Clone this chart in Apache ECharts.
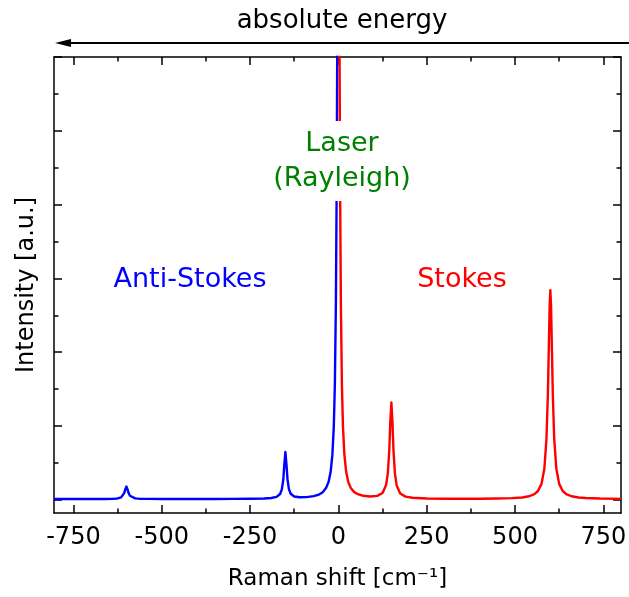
<!DOCTYPE html>
<html>
<head>
<meta charset="utf-8">
<script src="https://cdn.jsdelivr.net/npm/echarts@6.0.0/dist/echarts.min.js"></script>
<style>
  html, body { margin: 0; padding: 0; background: #fff; }
  #chart { width: 629px; height: 597px; }
</style>
</head>
<body>
<div id="chart"></div>
<script>
// ---- data ----
const blueX = [-805,-750,-700,-660,-640,-625,-615,-610,-606,-603,-600,-597,-594,-590,-585,-575,-560,-540,-500,-450,-400,-350,-300,-250,-210,-190,-175,-165,-160,-156,-153,-150,-147,-144,-140,-135,-125,-110,-90,-70,-55,-45,-35,-28,-22,-17,-13,-10,-7,-5,-3,-1.5,0];
const blueY = [0.009,0.009,0.009,0.010,0.012,0.017,0.032,0.053,0.093,0.144,0.178,0.144,0.093,0.054,0.032,0.018,0.012,0.011,0.009,0.010,0.010,0.010,0.011,0.013,0.016,0.023,0.038,0.078,0.141,0.273,0.479,0.646,0.479,0.275,0.143,0.081,0.044,0.033,0.035,0.048,0.070,0.099,0.158,0.238,0.375,0.607,0.99,1.55,2.69,4.12,6.39,8.32,9.25];
const redX = [0,1.5,3,5,7,10,13,17,22,28,35,45,55,70,90,110,125,135,140,144,147,150,153,156,160,165,175,190,210,250,300,350,400,450,490,520,540,555,565,575,583,589,593,596,598,600,602,604,607,611,617,625,635,645,660,680,700,740,800];
const redY = [9.25,8.32,6.39,4.12,2.69,1.55,0.99,0.61,0.378,0.241,0.16,0.103,0.075,0.054,0.044,0.052,0.091,0.198,0.362,0.667,1.057,1.317,1.056,0.666,0.360,0.194,0.085,0.042,0.026,0.017,0.014,0.013,0.013,0.016,0.021,0.030,0.047,0.076,0.118,0.215,0.419,0.825,1.424,2.143,2.626,2.839,2.626,2.143,1.424,0.825,0.419,0.215,0.118,0.076,0.047,0.030,0.023,0.016,0.012];

const xMajorTicks = [-750,-500,-250,0,250,500,750];
const xMinorTicks = [-625,-375,-125,125,375,625];
const yMajorTicks = [0,1,2,3,4,5,6];
const yMinorTicks = [0.5,1.5,2.5,3.5,4.5,5.5];

const xName = 'Raman shift [cm⁻¹]';
const yName = 'Intensity [a.u.]';
const topText = 'absolute energy';
const laserText = 'Laser\n(Rayleigh)';
const antiText = 'Anti-Stokes';
const stokesText = 'Stokes';

// ---- chart ----
const FONT = '"DejaVu Sans", sans-serif';
const xMin = -805, xMax = 800, yMin = -0.18, yMax = 6;

function zip(xs, ys) { return xs.map((x, i) => [x, ys[i]]); }

function xAxisDef(pos, ticks, len, opts) {
  return Object.assign({
    type: 'value', min: xMin, max: xMax, position: pos, gridIndex: 0,
    axisLine: { show: false, onZero: false },
    axisTick: { show: true, inside: true, length: len, customValues: ticks,
                lineStyle: { color: '#000', width: 1.5 } },
    axisLabel: { show: false },
    splitLine: { show: false }
  }, opts || {});
}
function yAxisDef(pos, ticks, len, opts) {
  return Object.assign({
    type: 'value', min: yMin, max: yMax, position: pos, gridIndex: 0,
    axisLine: { show: false, onZero: false },
    axisTick: { show: true, inside: true, length: len, customValues: ticks,
                lineStyle: { color: '#000', width: 1.5 } },
    axisLabel: { show: false },
    splitLine: { show: false }
  }, opts || {});
}

const chart = echarts.init(document.getElementById('chart'), null, { renderer: 'canvas' });
const option = {
  animation: false,
  backgroundColor: '#ffffff',
  grid: { left: 54, right: 8, top: 57, bottom: 84, containLabel: false, outerBoundsMode: 'none' },
  xAxis: [
    xAxisDef('bottom', xMajorTicks, 8, {
      axisLine: { show: true, onZero: false, lineStyle: { color: '#000', width: 1.5 } },
      axisLabel: { show: true, customValues: xMajorTicks, margin: 13, fontSize: 24,
                   fontFamily: FONT, color: '#000' },
      name: xName, nameLocation: 'middle', nameGap: 55,
      nameTextStyle: { fontSize: 23, fontFamily: FONT, color: '#000' }
    }),
    xAxisDef('bottom', xMinorTicks, 4.5),
    xAxisDef('top', xMajorTicks, 8, {
      axisLine: { show: true, onZero: false, lineStyle: { color: '#000', width: 1.5 } }
    }),
    xAxisDef('top', xMinorTicks, 4.5)
  ],
  yAxis: [
    yAxisDef('left', yMajorTicks, 8, {
      axisLine: { show: true, onZero: false, lineStyle: { color: '#000', width: 1.5 } },
      name: yName, nameLocation: 'middle', nameGap: 15,
      nameTextStyle: { fontSize: 24, fontFamily: FONT, color: '#000' }
    }),
    yAxisDef('left', yMinorTicks, 4.5),
    yAxisDef('right', yMajorTicks, 8, {
      axisLine: { show: true, onZero: false, lineStyle: { color: '#000', width: 1.5 } }
    }),
    yAxisDef('right', yMinorTicks, 4.5)
  ],
  series: [
    { type: 'line', name: 'anti-Stokes', xAxisIndex: 0, yAxisIndex: 0, data: zip(blueX, blueY),
      symbol: 'none', showSymbol: false, clip: true, z: 3,
      lineStyle: { color: '#0000ff', width: 2.4, join: 'round' } },
    { type: 'line', name: 'Stokes', xAxisIndex: 0, yAxisIndex: 0, data: zip(redX, redY),
      symbol: 'none', showSymbol: false, clip: true, z: 3,
      lineStyle: { color: '#ff0000', width: 2.4, join: 'round' } }
  ],
  graphic: [
    { type: 'text', x: 342, y: 21, z: 100,
      style: { text: topText, fill: '#000', font: '26px ' + FONT, align: 'center', verticalAlign: 'middle' } },
    { type: 'line', z: 100,
      shape: { x1: 66, y1: 43, x2: 629, y2: 43 },
      style: { stroke: '#000', lineWidth: 2 } },
    { type: 'polygon', z: 100,
      shape: { points: [[55, 43], [71, 39], [71, 47]] },
      style: { fill: '#000' } },
    { type: 'text', x: 342, y: 161, z: 100,
      style: { text: laserText, fill: '#008000', font: '27px ' + FONT, align: 'center',
               verticalAlign: 'middle', lineHeight: 35, backgroundColor: '#ffffff', padding: [5, 4] } },
    { type: 'text', x: 190, y: 280, z: 100,
      style: { text: antiText, fill: '#0000ff', font: '27px ' + FONT, align: 'center', verticalAlign: 'middle' } },
    { type: 'text', x: 462, y: 280, z: 100,
      style: { text: stokesText, fill: '#ff0000', font: '27px ' + FONT, align: 'center', verticalAlign: 'middle' } }
  ]
};
chart.setOption(option);
</script>
</body>
</html>
